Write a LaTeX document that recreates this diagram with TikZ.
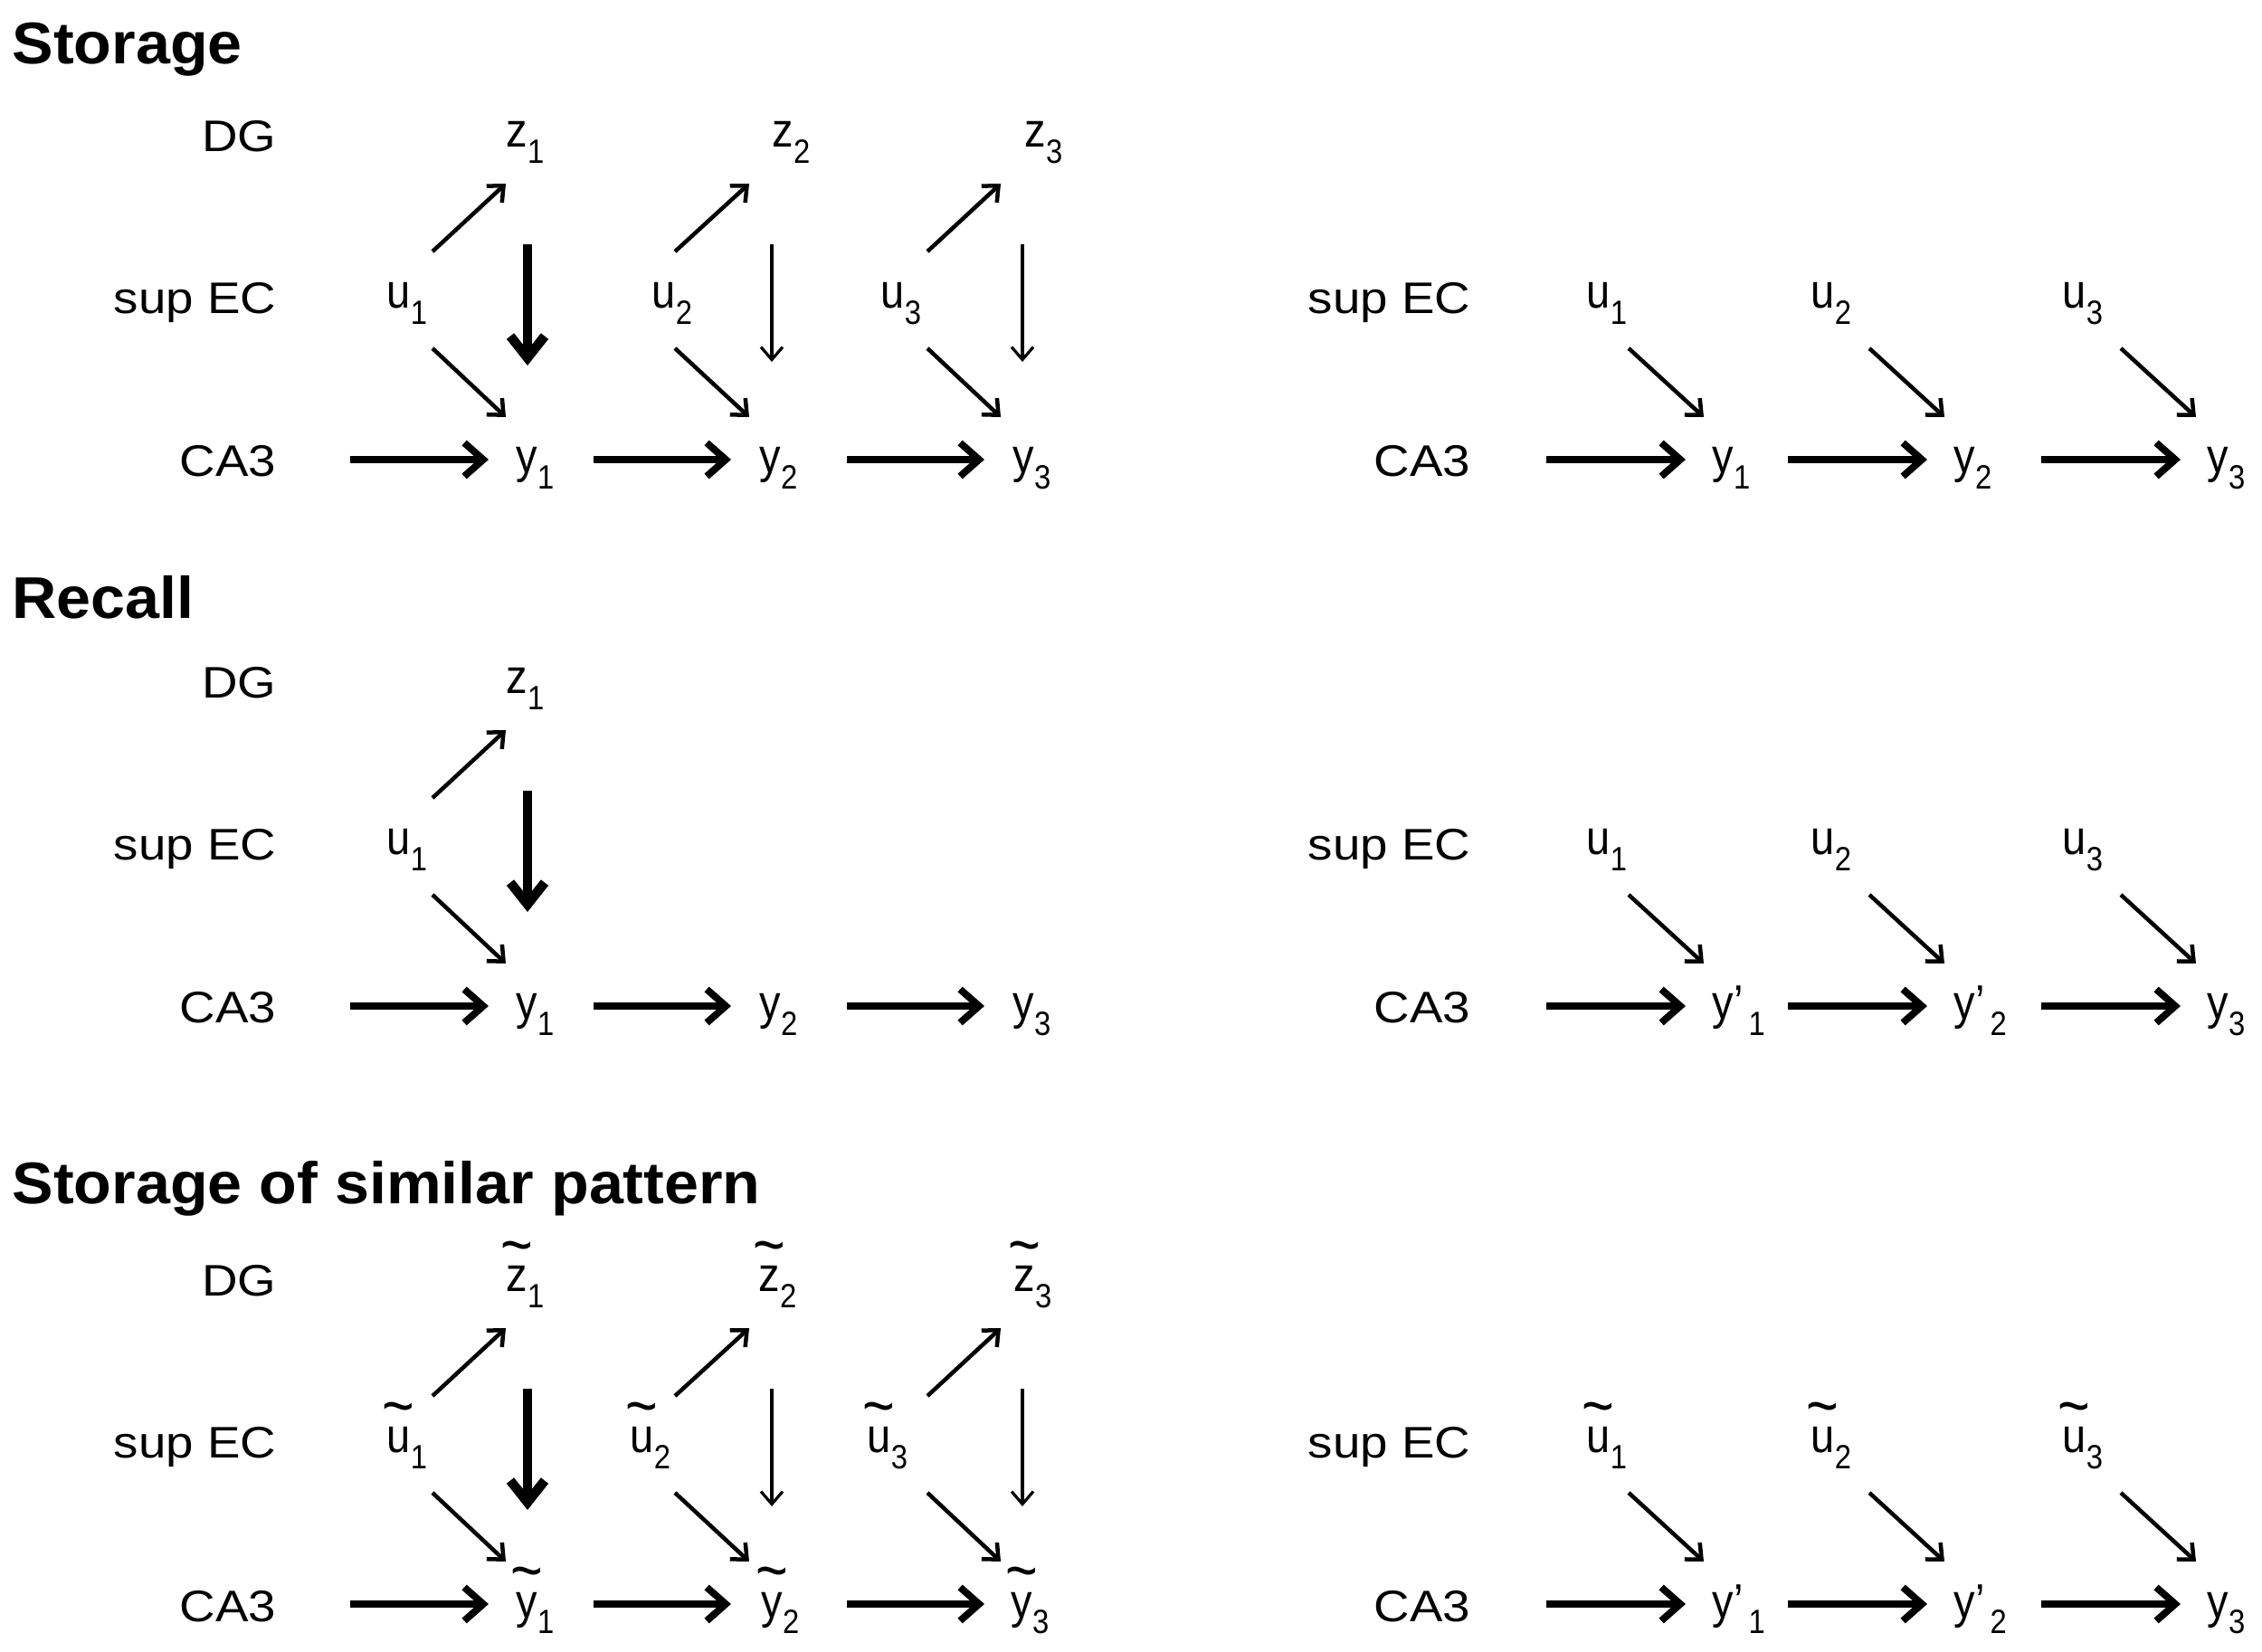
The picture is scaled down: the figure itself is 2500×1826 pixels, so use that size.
\documentclass[tikz,border=0pt]{standalone}
\usepackage{fontspec}
\setmainfont{Liberation Sans}
\newfontfamily\labfont[FakeStretch=1.12]{Liberation Sans}
\newfontfamily\titfont[FakeStretch=1.05]{Liberation Sans}
\newfontfamily\varfont[FakeStretch=0.88]{Liberation Sans}
\usetikzlibrary{arrows.meta}
\newcommand\vsub[1]{\raisebox{-1.75mm}{\fontsize{10.6pt}{10pt}\selectfont #1}}
\newcommand\tld[1]{\ooalign{#1\cr\hidewidth\raisebox{2.75mm}{\scalebox{1.3}[1.35]{\textasciitilde}}\hidewidth\cr}}
\newcommand\prm{’\hspace{0.6mm}}
\newcommand\colarrows[6]{%
  \coordinate (#1u) at (#2,278); \coordinate (#1z) at (#3,203);
  \coordinate (#1d) at (#2,385); \coordinate (#1y) at (#3,461);
  \coordinate (#1vt) at (#4,270); \coordinate (#1vb) at (#4,#5);
  \draw[darr] (#1u) -- (#1z);
  \draw[darr] (#1d) -- (#1y);
  \draw[#6] (#1vt) -- (#1vb);}
\newcommand\rowarrows[1]{%
  \coordinate (#1ha1) at (387,508);  \coordinate (#1hb1) at (540,508);
  \coordinate (#1ha2) at (656,508);  \coordinate (#1hb2) at (808,508);
  \coordinate (#1ha3) at (936,508);  \coordinate (#1hb3) at (1088,508);
  \coordinate (#1ra1) at (1709,508); \coordinate (#1rb1) at (1863,508);
  \coordinate (#1ra2) at (1976,508); \coordinate (#1rb2) at (2130,508);
  \coordinate (#1ra3) at (2256,508); \coordinate (#1rb3) at (2410,508);
  \coordinate (#1da1) at (1800,385); \coordinate (#1db1) at (1883,461);
  \coordinate (#1da2) at (2066,385); \coordinate (#1db2) at (2149,461);
  \coordinate (#1da3) at (2344,385); \coordinate (#1db3) at (2427,461);
  \foreach \k in {1,2,3}{%
    \draw[harr] (#1ha\k) -- (#1hb\k);
    \draw[harr] (#1ra\k) -- (#1rb\k);
    \draw[darr] (#1da\k) -- (#1db\k);}}
\begin{document}
\begin{tikzpicture}[x=0.1mm,y=-0.1mm,
  lab/.style={anchor=base east,inner sep=0pt,font=\labfont\fontsize{13.9pt}{14pt}\selectfont},
  var/.style={anchor=base west,inner sep=0pt,font=\varfont\fontsize{15.2pt}{15pt}\selectfont},
  tit/.style={anchor=base west,inner sep=0pt,font=\titfont\bfseries\fontsize{18.5pt}{19pt}\selectfont},
  harr/.style={line width=0.78mm,-{Straight Barb[length=2.1mm,width=3.7mm]}},
  darr/.style={line width=0.45mm,-{Straight Barb[length=1.4mm,width=2.5mm]}},
  varr/.style={line width=0.32mm,-{Straight Barb[length=1.4mm,width=2.4mm]}},
  barr/.style={line width=1.05mm,-{Straight Barb[length=2.4mm,width=3.8mm]}}]
\useasboundingbox (0,0) rectangle (2500,1826);
% titles
\node[tit] (t1) at (13,71) {Storage};
\node[tit] (t2) at (13,684) {Recall};
\node[tit] (t3) at (13,1330) {Storage of similar pattern};
% ---------------- section 1 ----------------
\node[lab] (s1dg) at (306,168) {DG};
\node[lab] (s1ec) at (306,347) {sup EC};
\node[lab] (s1ca) at (306,527) {CA3};
\node[var] (s1z1) at (559,163) {z\vsub{1}};
\node[var] (s1z2) at (853,163) {z\vsub{2}};
\node[var] (s1z3) at (1132,163) {z\vsub{3}};
\node[var] (s1u1) at (427,341) {u\vsub{1}};
\node[var] (s1u2) at (720,341) {u\vsub{2}};
\node[var] (s1u3) at (973,341) {u\vsub{3}};
\node[var] (s1y1) at (570,523) {y\vsub{1}};
\node[var] (s1y2) at (839,523) {y\vsub{2}};
\node[var] (s1y3) at (1119,523) {y\vsub{3}};
\node[lab] (s1rec) at (1626,347) {sup EC};
\node[lab] (s1rca) at (1626,527) {CA3};
\node[var] (s1ru1) at (1753,341) {u\vsub{1}};
\node[var] (s1ru2) at (2001,341) {u\vsub{2}};
\node[var] (s1ru3) at (2279,341) {u\vsub{3}};
\node[var] (s1ry1) at (1892,523) {y\vsub{1}};
\node[var] (s1ry2) at (2159,523) {y\vsub{2}};
\node[var] (s1ry3) at (2439,523) {y\vsub{3}};
\colarrows{s1c1}{478}{559}{583}{404}{barr}
\colarrows{s1c2}{746}{828}{853}{400}{varr}
\colarrows{s1c3}{1025}{1106}{1130}{400}{varr}
\rowarrows{s1}
% ---------------- section 2 ----------------
\begin{scope}[yshift=-60.4mm]
\node[lab] (s2dg) at (306,168) {DG};
\node[lab] (s2ec) at (306,347) {sup EC};
\node[lab] (s2ca) at (306,527) {CA3};
\node[var] (s2z1) at (559,163) {z\vsub{1}};
\node[var] (s2u1) at (427,341) {u\vsub{1}};
\node[var] (s2y1) at (570,523) {y\vsub{1}};
\node[var] (s2y2) at (839,523) {y\vsub{2}};
\node[var] (s2y3) at (1119,523) {y\vsub{3}};
\node[lab] (s2rec) at (1626,347) {sup EC};
\node[lab] (s2rca) at (1626,527) {CA3};
\node[var] (s2ru1) at (1753,341) {u\vsub{1}};
\node[var] (s2ru2) at (2001,341) {u\vsub{2}};
\node[var] (s2ru3) at (2279,341) {u\vsub{3}};
\node[var] (s2ry1) at (1892,523) {y\prm\vsub{1}};
\node[var] (s2ry2) at (2159,523) {y\prm\vsub{2}};
\node[var] (s2ry3) at (2439,523) {y\vsub{3}};
\colarrows{s2c1}{478}{559}{583}{404}{barr}
\rowarrows{s2}
\end{scope}
% ---------------- section 3 ----------------
\begin{scope}[yshift=-126.5mm]
\node[lab] (s3dg) at (306,168) {DG};
\node[lab] (s3ec) at (306,347) {sup EC};
\node[lab] (s3ca) at (306,527) {CA3};
\node[var] (s3z1) at (559,163) {\tld{z}\vsub{1}};
\node[var] (s3z2) at (838,163) {\tld{z}\vsub{2}};
\node[var] (s3z3) at (1120,163) {\tld{z}\vsub{3}};
\node[var] (s3u1) at (427,341) {\tld{u}\vsub{1}};
\node[var] (s3u2) at (696,341) {\tld{u}\vsub{2}};
\node[var] (s3u3) at (958,341) {\tld{u}\vsub{3}};
\node[var] (s3y1) at (570,523) {\tld{y}\vsub{1}};
\node[var] (s3y2) at (841,523) {\tld{y}\vsub{2}};
\node[var] (s3y3) at (1117,523) {\tld{y}\vsub{3}};
\node[lab] (s3rec) at (1626,347) {sup EC};
\node[lab] (s3rca) at (1626,527) {CA3};
\node[var] (s3ru1) at (1753,341) {\tld{u}\vsub{1}};
\node[var] (s3ru2) at (2001,341) {\tld{u}\vsub{2}};
\node[var] (s3ru3) at (2279,341) {\tld{u}\vsub{3}};
\node[var] (s3ry1) at (1892,523) {y\prm\vsub{1}};
\node[var] (s3ry2) at (2159,523) {y\prm\vsub{2}};
\node[var] (s3ry3) at (2439,523) {y\vsub{3}};
\colarrows{s3c1}{478}{559}{583}{404}{barr}
\colarrows{s3c2}{746}{828}{853}{400}{varr}
\colarrows{s3c3}{1025}{1106}{1130}{400}{varr}
\rowarrows{s3}
\end{scope}
\end{tikzpicture}
\end{document}
